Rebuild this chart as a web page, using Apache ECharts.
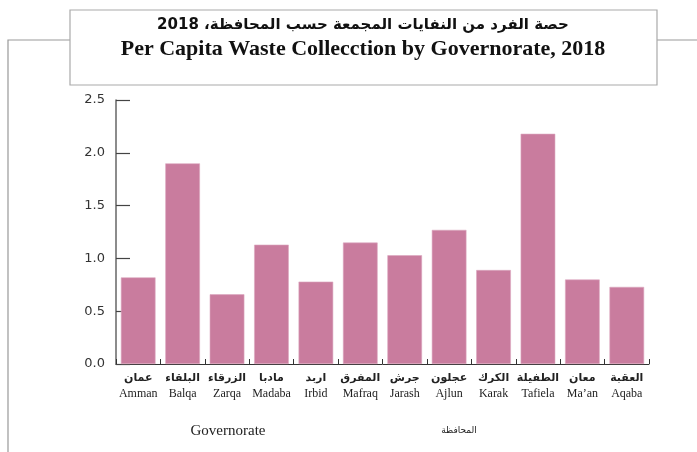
<!DOCTYPE html>
<html>
<head>
<meta charset="utf-8">
<script src="https://cdn.jsdelivr.net/npm/echarts@6/dist/echarts.min.js"></script>
<style>html,body{margin:0;padding:0;background:#fff;}#c{width:697px;height:452px;}</style>
</head>
<body>
<div id="c"></div>
<script>
const namesAr = ['عمان','البلقاء','الزرقاء','مادبا','اربد','المفرق','جرش','عجلون','الكرك','الطفيلة','معان','العقبة'];
const namesEn = ['Amman','Balqa','Zarqa','Madaba','Irbid','Mafraq','Jarash','Ajlun','Karak','Tafiela',"Ma’an",'Aqaba'];
const values = [0.82, 1.90, 0.66, 1.13, 0.78, 1.15, 1.03, 1.27, 0.89, 2.18, 0.80, 0.73];
const yTicks = [0, 0.5, 1.0, 1.5, 2.0, 2.5];
const titleAr = 'حصة الفرد من النفايات المجمعة حسب المحافظة، 2018';
const titleEn = 'Per Capita Waste Collecction by Governorate, 2018';
const axisNameEn = 'Governorate';
const axisNameAr = 'المحافظة';

const chart = echarts.init(document.getElementById('c'), null, {renderer: 'canvas'});
const categories = namesEn.map((e, i) => i);
chart.setOption({
  animation: false,
  backgroundColor: '#fff',
  grid: {left: 116, right: 48, top: 100, bottom: 88, containLabel: false},
  xAxis: {
    type: 'category',
    data: categories,
    axisLine: {show: true, lineStyle: {color: '#333', width: 1}},
    axisTick: {show: true, inside: true, length: 5, alignWithLabel: false, lineStyle: {color: '#333'}},
    axisLabel: {
      margin: 6,
      interval: 0,
      formatter: function (v) { return '{ar|' + namesAr[v] + '}\n{en|' + namesEn[v] + '}'; },
      rich: {
        ar: {fontFamily: 'DejaVu Sans', fontWeight: 'bold', fontSize: 11, color: '#222', lineHeight: 16},
        en: {fontFamily: 'Liberation Serif', fontSize: 12, color: '#222', lineHeight: 16}
      }
    },
    splitLine: {show: false}
  },
  yAxis: {
    type: 'value',
    min: yTicks[0],
    max: yTicks[yTicks.length - 1],
    interval: 0.5,
    axisLine: {show: true, lineStyle: {color: '#666', width: 1.5}},
    axisTick: {show: true, inside: true, length: 14, lineStyle: {color: '#444', width: 1.2}},
    axisLabel: {
      margin: 11,
      fontFamily: 'DejaVu Sans',
      fontSize: 13,
      color: '#333',
      formatter: function (v) { return v.toFixed(1); }
    },
    splitLine: {show: false}
  },
  series: [{
    type: 'bar',
    data: values,
    barCategoryGap: '22%',
    itemStyle: {color: '#c97c9e', borderColor: '#dca7bf', borderWidth: 0.6}
  }],
  graphic: [
    {type: 'polyline', shape: {points: [[8, 452], [8, 40], [70, 40]]}, style: {stroke: '#999', lineWidth: 1.2, fill: null}, z: 1},
    {type: 'line', shape: {x1: 657, y1: 40, x2: 697, y2: 40}, style: {stroke: '#999', lineWidth: 1.2}, z: 1},
    {type: 'rect', shape: {x: 70, y: 10, width: 587, height: 75}, style: {stroke: '#aaa', lineWidth: 1.2, fill: '#fff'}, z: 2},
    {type: 'text', x: 363, y: 25, z: 3, style: {text: '\u202B' + titleAr + '\u202C', fontFamily: 'DejaVu Sans', fontWeight: 'bold', fontSize: 15, fill: '#111', align: 'center', verticalAlign: 'middle'}},
    {type: 'text', x: 363, y: 49, z: 3, style: {text: titleEn, fontFamily: 'Liberation Serif', fontWeight: 'bold', fontSize: 22, fill: '#111', align: 'center', verticalAlign: 'middle'}},
    {type: 'text', x: 228, y: 431, style: {text: axisNameEn, fontFamily: 'Liberation Serif', fontSize: 15, fill: '#222', align: 'center', verticalAlign: 'middle'}},
    {type: 'text', x: 459, y: 431, style: {text: axisNameAr, fontFamily: 'DejaVu Sans', fontSize: 9, fill: '#222', align: 'center', verticalAlign: 'middle'}}
  ]
});
</script>
</body>
</html>
